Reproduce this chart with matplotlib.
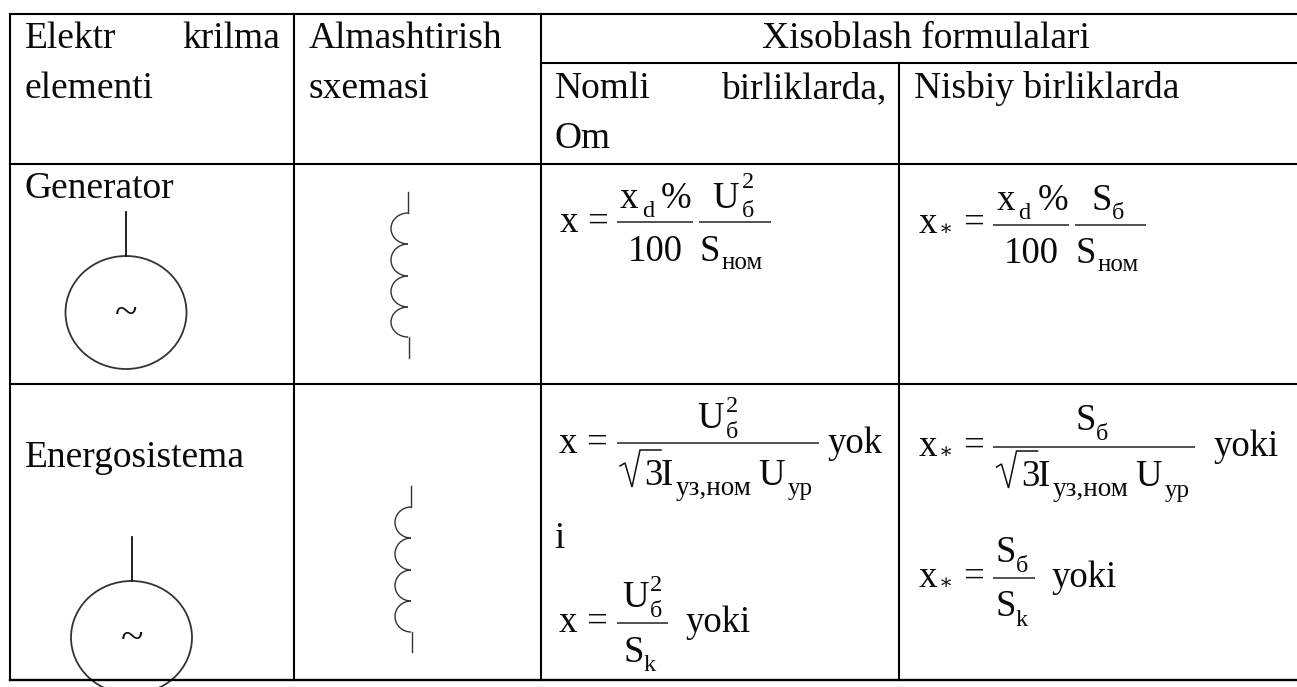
#Librerias
import matplotlib
matplotlib.use("Agg")
import matplotlib.pyplot as plt
from matplotlib.patches import Arc, Ellipse

plt.rcParams['font.family'] = ['Liberation Serif', 'DejaVu Serif']

# texts of the table
header_elem = ["Elektr", "krilma", "elementi"]
header_scheme = ["Almashtirish", "sxemasi"]
header_formulas = "Xisoblash formulalari"
header_named = ["Nomli", "birliklarda,", "Om"]
header_relative = "Nisbiy birliklarda"
row_names = ["Generator", "Energosistema"]
sub_nom = "ном"
sub_uz = "уз,ном"
sub_ur = "ур"
sub_b = "б"
word_yoki = "yoki"
word_yok = "yok"
word_i = "i"

# table grid lines, in pixels of the picture
col_x = [10, 294, 540.5, 899]
row_y = [14, 63, 164, 384, 680]
right_x = 1297

CELL = 27
BIG = 26.5
MID = 17.5
SMALL = 18

fig = plt.figure(figsize=(12.97, 6.87), dpi=100)
ax = fig.add_axes([0, 0, 1, 1])
ax.set_xlim(0, 1297)
ax.set_ylim(687, 0)
ax.axis('off')


def t(x, y, s, size=BIG):
    ax.text(x, y, s, fontsize=size, ha='left', va='baseline', color='#0a0a0a')


def bar(x0, x1, y):
    ax.plot([x0, x1], [y, y], color='#222222', lw=1.1, solid_capstyle='butt')


def x_eq(x, y, star=False):
    t(x, y, "x")
    if star:
        t(x + 20, y + 2, "∗", 15)
        t(x + 44, y, "=")
    else:
        t(x + 27, y, "=")


def x_percent(x, y):
    # x_d % numerator
    t(x, y, "x")
    t(x + 22, y + 9, "d", MID)
    t(x + 41, y, "%")


def radical(x, y, x_end):
    ax.plot([x, x + 5, x + 12, x + 20, x_end], [y - 19, y - 22, y + 2, y - 35, y - 35],
            color='#111111', lw=1.1, solid_joinstyle='miter')


def coil(x, ys, y_top, y_bottom, width):
    ax.plot([x, x], [y_top, ys[0]], color='#333333', lw=1.0)
    for a, b in zip(ys[:-1], ys[1:]):
        ax.add_patch(Arc((x, (a + b) / 2), width, b - a, theta1=90, theta2=270,
                         color='#333333', lw=1.0))
    ax.plot([x + 1, x + 1], [ys[-1], y_bottom], color='#333333', lw=1.0)


def generator(x, y_stem, y_top):
    # circle with a stem and a tilde, the second one runs over the table border
    ax.plot([x, x], [y_stem, y_top], color='#111111', lw=1.3)
    ax.add_patch(Ellipse((x, y_top + 56.5), 121, 113, fill=False,
                         edgecolor='#333333', lw=1.3, clip_on=True))
    t(x - 11, y_top + 68, "~", 30)


# ------- PART 1: grid
ax.plot([col_x[0], right_x], [row_y[0], row_y[0]], color='black', lw=1.5)
ax.plot([col_x[2], right_x], [row_y[1], row_y[1]], color='black', lw=1.5)
ax.plot([col_x[0], right_x], [row_y[2], row_y[2]], color='black', lw=1.5)
ax.plot([col_x[0], right_x], [row_y[3], row_y[3]], color='black', lw=1.5)
ax.plot([col_x[0], right_x], [row_y[4], row_y[4]], color='black', lw=1.7)
for x in col_x[:3]:
    ax.plot([x, x], [row_y[0], row_y[4]], color='black', lw=1.5)
ax.plot([col_x[3], col_x[3]], [row_y[1], row_y[4]], color='black', lw=1.5)

# ------- PART 2: plain text cells
t(25, 48, header_elem[0], CELL)
t(182.5, 48, header_elem[1], CELL)
t(25, 98, header_elem[2], CELL)
t(309, 48, header_scheme[0], CELL)
t(309, 98, header_scheme[1], CELL)
t(761.5, 48, header_formulas, CELL)
t(555, 98, header_named[0], CELL)
t(721, 98, header_named[1], CELL)
t(555, 148, header_named[2], CELL)
t(914, 98, header_relative, CELL)
t(25, 198, row_names[0], CELL)
t(25, 467, row_names[1], CELL)

# ------- PART 3: symbols
generator(126, 212, 256)
generator(131.5, 537, 581)
coil(408, [213, 244, 276, 307, 337], 192, 358, 34)
coil(411, [507, 538, 570, 601, 632], 486, 652, 32)

# ------- PART 4: formulas
# generator, named units
x_eq(560, 232)
bar(617, 693, 222)
x_percent(620, 208)
t(628, 261, "100")
bar(699, 771, 222)
t(712, 208, "U")
t(742, 217, sub_b, MID)
t(742, 188, "2", MID)
t(700, 261, "S")
t(722, 269, sub_nom, SMALL)

# generator, relative units
x_eq(919, 233, star=True)
bar(993, 1069, 225)
x_percent(996.5, 210)
t(1004, 263, "100")
bar(1075, 1146, 225)
t(1092, 210, "S")
t(1112, 219, sub_b, MID)
t(1076, 263, "S")
t(1098, 271, sub_nom, SMALL)

# energosistema, named units
x_eq(559, 453)
bar(617, 819, 443)
t(697, 428, "U")
t(726, 438, sub_b, MID)
t(726, 412.5, "2", MID)
radical(620, 485, 661)
t(644, 485, "3")
t(661, 485, "I")
t(676, 495, sub_uz, 19.5)
t(758, 485, "U")
t(788, 495, sub_ur, SMALL)
t(827, 453, word_yok)
t(554.5, 547.5, word_i)

x_eq(559, 632)
bar(617, 668, 623)
t(622, 607, "U")
t(650, 617, sub_b, MID)
t(650, 591, "2", MID)
t(623, 661.5, "S")
t(644, 671, "k", MID)
t(685, 632, word_yoki)

# energosistema, relative units
x_eq(919, 456, star=True)
bar(993, 1195, 446.5)
t(1075, 429.5, "S")
t(1095.5, 440, sub_b, MID)
radical(996.5, 486, 1037.5)
t(1021, 486, "3")
t(1037.5, 486, "I")
t(1053, 496.5, sub_uz, 19.5)
t(1135, 486, "U")
t(1165, 496.5, sub_ur, SMALL)
t(1213, 456, word_yoki)

x_eq(919, 587, star=True)
bar(993, 1035, 577.5)
t(995, 562, "S")
t(1016, 572, sub_b, MID)
t(995, 616.5, "S")
t(1016, 626, "k", MID)
t(1052, 587, word_yoki)

fig.savefig("out.png", dpi=100, facecolor='white')
